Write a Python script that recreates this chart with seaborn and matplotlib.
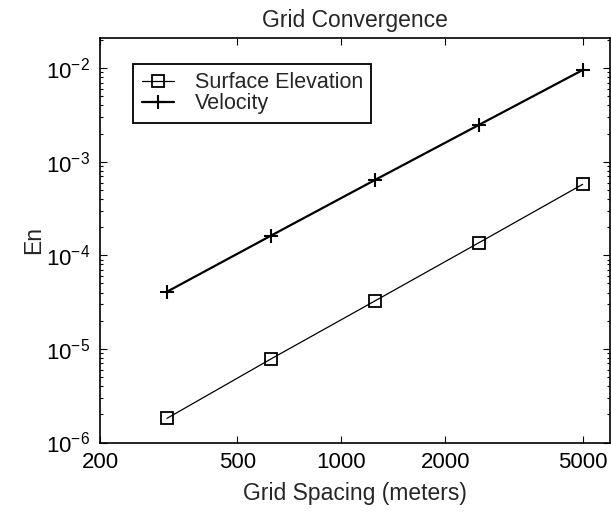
import matplotlib

matplotlib.use("Agg")
import matplotlib.pyplot as plt
from matplotlib.ticker import LogLocator, FixedLocator, FixedFormatter, NullLocator
import pandas as pd
import seaborn as sns

# data
grid_spacing = [312.5, 625, 1250, 2500, 5000]
surface_elevation = [1.81e-6, 7.8e-6, 3.25e-5, 1.36e-4, 5.74e-4]
velocity = [4.08e-5, 1.62e-4, 6.37e-4, 2.47e-3, 9.55e-3]
x_ticks = [200, 500, 1000, 2000, 5000]
x_tick_labels = ["200", "500", "1000", "2000", "5000"]

sns.set_theme(style="ticks")
plt.rcParams["font.family"] = ["Liberation Sans", "DejaVu Sans"]
plt.rcParams["mathtext.fontset"] = "custom"
plt.rcParams["mathtext.rm"] = "Liberation Sans"
plt.rcParams["mathtext.it"] = "Liberation Sans"

df = pd.DataFrame(
    {
        "spacing": grid_spacing * 2,
        "en": surface_elevation + velocity,
        "series": ["Surface Elevation"] * 5 + ["Velocity"] * 5,
    }
)

fig = plt.figure(figsize=(6.11, 5.14), dpi=100)
ax = fig.add_axes([100 / 611, 1 - 442.5 / 514, 510 / 611, 404.5 / 514])

surf = df[df["series"] == "Surface Elevation"]
vel = df[df["series"] == "Velocity"]
sns.lineplot(data=surf, x="spacing", y="en", ax=ax, color="black", linewidth=0.9,
             marker="s", markersize=8, markerfacecolor="none", markeredgecolor="black",
             markeredgewidth=1.3, label="Surface Elevation")
sns.lineplot(data=vel, x="spacing", y="en", ax=ax, color="black", linewidth=1.6,
             marker="+", markersize=10, markeredgecolor="black", markeredgewidth=1.5,
             label="Velocity")

ax.set_xscale("log")
ax.set_yscale("log")
ax.set_xlim(200, 6000)
ax.set_ylim(1e-6, 2.1e-2)

ax.xaxis.set_major_locator(FixedLocator(x_ticks))
ax.xaxis.set_major_formatter(FixedFormatter(x_tick_labels))
ax.xaxis.set_minor_locator(NullLocator())
ax.yaxis.set_major_locator(LogLocator(base=10, numticks=10))
ax.yaxis.set_minor_locator(LogLocator(base=10, subs=range(2, 10), numticks=20))

ax.tick_params(which="both", direction="in", top=True, right=True, labelsize=16,
               colors="black", width=0.8)
ax.tick_params(which="major", length=5, pad=7)
ax.tick_params(which="minor", length=2.5)
for side in ax.spines.values():
    side.set_linewidth(1.2)
    side.set_color("black")

ax.set_title("Grid Convergence", fontsize=16.5, pad=8)
ax.set_xlabel("Grid Spacing (meters)", fontsize=16.5, labelpad=6)
ax.set_ylabel("En", fontsize=16.5, labelpad=1)

leg = ax.legend(loc="upper left", bbox_to_anchor=(0.065, 0.936), borderaxespad=0,
                fontsize=15.5, fancybox=False, edgecolor="black", framealpha=1,
                handlelength=1.5, handletextpad=0.95, labelspacing=0.0, borderpad=0.4)
leg.get_frame().set_linewidth(1.3)

fig.savefig("out.png", dpi=100, facecolor="white")
